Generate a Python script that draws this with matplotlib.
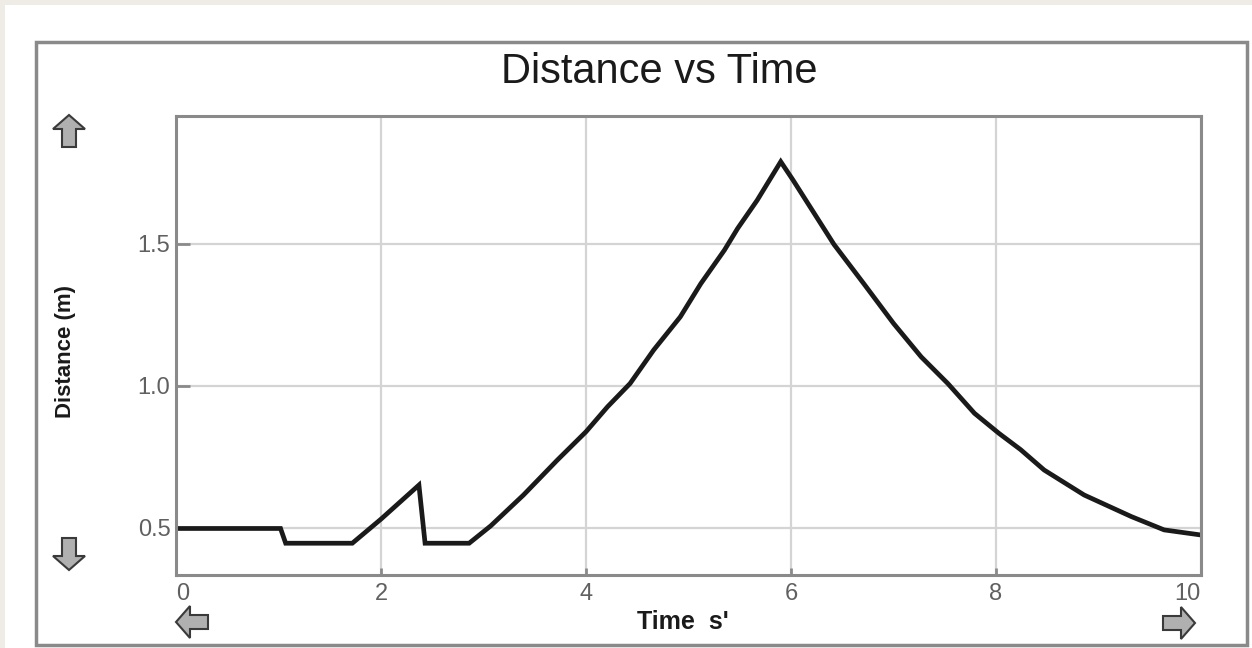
import matplotlib.pyplot as plt
from matplotlib.patches import Rectangle, Polygon

plt.rcParams['font.family'] = ['Liberation Sans', 'DejaVu Sans']

# distance sensor trace
time = [0, 1.02, 1.07, 1.72, 2.0, 2.37, 2.43, 2.86, 3.07, 3.39, 3.72, 4.0,
        4.21, 4.43, 4.66, 4.92, 5.12, 5.35, 5.48, 5.67, 5.9, 6.02, 6.42, 6.71,
        7.0, 7.27, 7.53, 7.79, 8.03, 8.24, 8.47, 8.86, 9.32, 9.64, 10.0]
distance = [0.497, 0.497, 0.445, 0.445, 0.53, 0.65, 0.445, 0.445, 0.506, 0.615,
            0.738, 0.838, 0.926, 1.008, 1.126, 1.243, 1.36, 1.478, 1.555, 1.654,
            1.79, 1.725, 1.498, 1.36, 1.22, 1.102, 1.008, 0.903, 0.832, 0.775,
            0.703, 0.615, 0.539, 0.492, 0.474]

xticks = [0, 2, 4, 6, 8, 10]
xtick_labels = ['0', '2', '4', '6', '8', '10']
yticks = [0.5, 1.0, 1.5]
ytick_labels = ['0.5', '1.0', '1.5']

W, H = 1252, 648
fig = plt.figure(figsize=(W / 100, H / 100), dpi=100, facecolor='#efece5')


def px(x, y):
    return x / W, 1 - y / H


# white panel and grey outer frame
fig.patches.append(Rectangle(px(5, H), (W - 5) / W, (H - 5) / H, transform=fig.transFigure,
                             facecolor='white', edgecolor='none', zorder=-2))
fig.patches.append(Rectangle(px(36, 645), (1247 - 36) / W, (645 - 42) / H, transform=fig.transFigure,
                             facecolor='none', edgecolor='#8a8a8a', linewidth=2.5, zorder=-1))

ax = fig.add_axes([176 / W, 1 - 575 / H, (1201 - 176) / W, (575 - 116) / H])
ax.plot(time, distance, color='#1a1a1a', linewidth=3.4, solid_joinstyle='miter')

ax.set_xlim(0, 10)
ax.set_ylim(0.333, 1.951)
ax.set_xticks(xticks)
ax.set_xticklabels(xtick_labels)
ax.set_yticks(yticks)
ax.set_yticklabels(ytick_labels)
ax.grid(True, color='#d4d4d4', linewidth=1.6)
ax.set_axisbelow(True)
for s in ax.spines.values():
    s.set_color('#8a8a8a')
    s.set_linewidth(2.2)
ax.tick_params(axis='x', direction='in', length=5, width=2, color='#8a8a8a',
               labelsize=17, labelcolor='#606060', pad=6)
ax.tick_params(axis='y', direction='in', length=10, width=2, color='#8a8a8a',
               labelsize=17, labelcolor='#606060', pad=4)
xl = ax.get_xticklabels()
xl[0].set_horizontalalignment('left')
xl[-1].set_horizontalalignment('right')

fig.text(659 / W, 1 - 72 / H, 'Distance vs Time', fontsize=30, color='#1a1a1a',
         ha='center', va='center')
fig.text(65 / W, 1 - 352 / H, 'Distance (m)', fontsize=16, fontweight='bold',
         color='#1a1a1a', rotation=90, ha='center', va='center')
fig.text(683 / W, 1 - 622 / H, "Time  s'", fontsize=18, fontweight='bold',
         color='#1a1a1a', ha='center', va='center')


# block arrows used as scroll buttons (pixel offsets, y grows downward)
def arrow(cx, cy, direction):
    shaft, head, L = 7, 16, 16
    # pointing up
    pts = [(-shaft, L), (-shaft, -2), (-head, -2), (0, -L), (head, -2), (shaft, -2), (shaft, L)]
    if direction == 'down':
        pts = [(x, -y) for x, y in pts]
    elif direction == 'left':
        pts = [(y, x) for x, y in pts]
    elif direction == 'right':
        pts = [(-y, x) for x, y in pts]
    verts = [px(cx + x, cy + y) for x, y in pts]
    fig.patches.append(Polygon(verts, closed=True, transform=fig.transFigure,
                               facecolor='#b0b0b0', edgecolor='#3a3a3a', linewidth=1.5))


arrow(69, 131, 'up')
arrow(69, 554, 'down')
arrow(192, 622, 'left')
arrow(1179, 623, 'right')

fig.savefig('out.png', dpi=100, facecolor=fig.get_facecolor())
